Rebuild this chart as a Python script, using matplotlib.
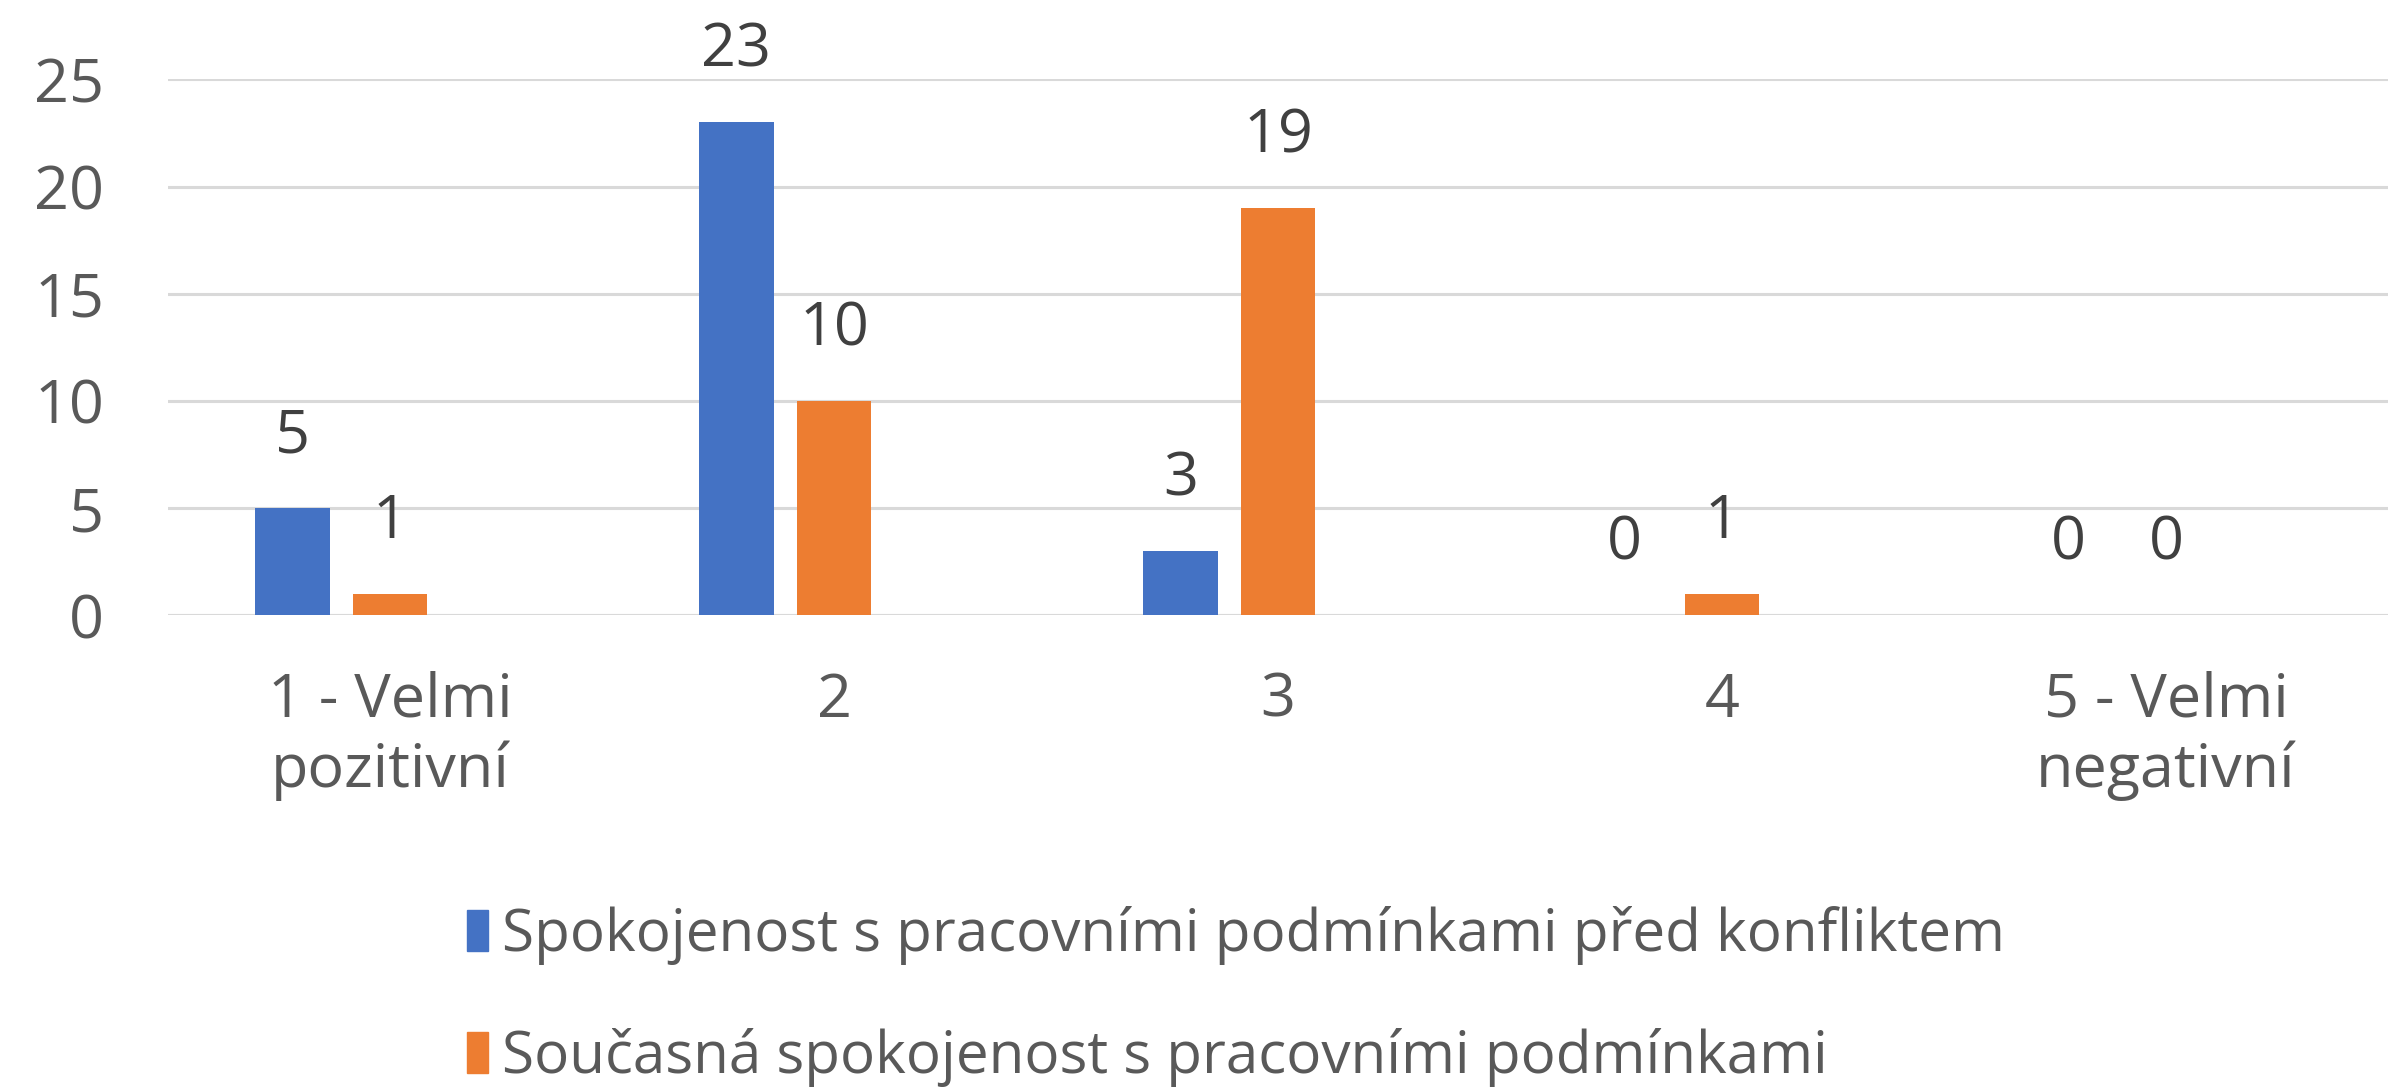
import numpy as np
import matplotlib.pyplot as plt
from matplotlib.patches import Patch

# data
categories = ['1 - Velmi\npozitivní', '2', '3', '4', '5 - Velmi\nnegativní']
pred_konfliktem = [5, 23, 3, 0, 0]
soucasna = [1, 10, 19, 1, 0]
series_names = ['Spokojenost s pracovními podmínkami před konfliktem',
                'Současná spokojenost s pracovními podmínkami']

blue = '#4472C4'
orange = '#ED7D31'
text_col = '#595959'
grid_col = '#D9D9D9'

plt.rcParams['font.family'] = ['Open Sans', 'DejaVu Sans']
fs = 44

fig = plt.figure(figsize=(24, 10.87), dpi=100)
ax = fig.add_axes([0.07, 0.434, 0.925, 0.493])

x = np.arange(len(categories))
w = 0.168
step = 0.22
b1 = ax.bar(x - step, pred_konfliktem, width=w, color=blue, zorder=3)
b2 = ax.bar(x, soucasna, width=w, color=orange, zorder=3)

ax.bar_label(b1, padding=30, fontsize=fs, color='#404040', clip_on=False)
ax.bar_label(b2, padding=30, fontsize=fs, color='#404040', clip_on=False)

ax.set_xlim(-0.5, len(categories) - 0.5)
ax.set_ylim(0, 25)
ax.set_yticks([0, 5, 10, 15, 20, 25])
ax.yaxis.grid(True, color=grid_col, linewidth=2.2, zorder=0)
for s in ax.spines.values():
    s.set_visible(False)
ax.axhline(0, color=grid_col, linewidth=2.2, zorder=2)

ax.set_xticks(x)
ax.set_xticklabels(categories, linespacing=1.2)
ax.tick_params(axis='both', length=0, labelsize=fs, colors=text_col)
ax.tick_params(axis='y', pad=46)
ax.tick_params(axis='x', pad=40)

handles = [Patch(color=blue), Patch(color=orange)]
fig.legend(handles, series_names, loc='upper left', bbox_to_anchor=(0.185, 0.188),
           frameon=False, fontsize=42, labelcolor=text_col,
           handlelength=0.35, handleheight=0.7, handletextpad=0.25,
           labelspacing=1.08, borderaxespad=0)

fig.savefig('out.png', dpi=100)
